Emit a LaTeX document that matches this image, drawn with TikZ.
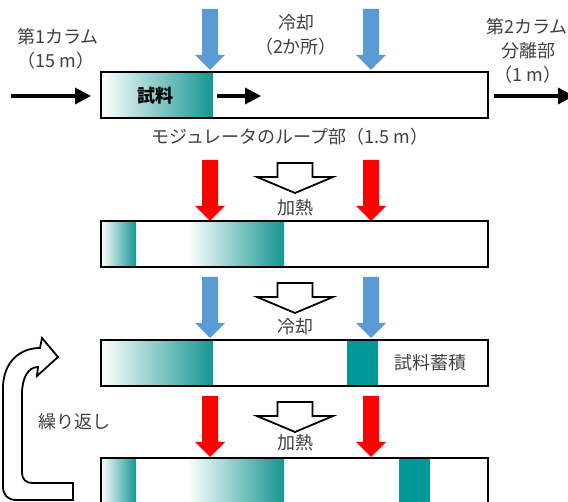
\documentclass[tikz,border=0pt]{standalone}
\usepackage{fontspec}
\setmainfont{Noto Sans CJK JP}
\usetikzlibrary{arrows.meta}
\definecolor{cool}{RGB}{91,155,213}
\definecolor{hot}{RGB}{255,0,0}
\definecolor{tealc}{RGB}{0,153,153}
\definecolor{tealg}{RGB}{20,150,146}
\definecolor{txt}{RGB}{64,64,64}
\begin{document}
\begin{tikzpicture}[x=1pt,y=-1pt,
  barbox/.style={draw=black,line width=2.6pt,minimum width=387pt,minimum height=46pt,anchor=north west,inner sep=0pt,outer sep=0pt},
  lbl/.style={text=txt,font=\fontsize{18}{21}\selectfont,inner sep=0pt},
  flow/.style={line width=3.5pt,-{Triangle[length=16pt,width=16pt]}},
  downarrow/.pic={\fill[pic actions] (-8,0) -- (8,0) -- (8,46) -- (15,46) -- (0,61) -- (-15,46) -- (-8,46) -- cycle;},
  hollowarrow/.pic={\draw[fill=white,draw=black,line width=1.8pt,line join=miter] (-17.5,0) -- (17.5,0) -- (17.5,14) -- (38,14) -- (0,30) -- (-38,14) -- (-17.5,14) -- cycle;},
  fromwhite/.style={left color=white,middle color=tealg!25,right color=tealg}
]
\useasboundingbox (0,0) rectangle (568,502);
\clip (0,0) rectangle (568,502);

% ---------- row 1 ----------
\shade[fromwhite] (101,72) rectangle (213,118);
\node[barbox] (bar1) at (101,72) {};
\node[font=\fontsize{18}{21}\selectfont\bfseries,inner sep=0pt] (sample) at (155,96) {試料};
\coordinate (s1) at (217,96);
\coordinate (s2) at (261,96);
\draw[flow] (s1) -- (s2);
\coordinate (in1) at (11,96);
\coordinate (in2) at (91,96);
\draw[flow] (in1) -- (in2);
\coordinate (out1) at (494,96);
\coordinate (out2) at (574,96);
\draw[flow] (out1) -- (out2);
\pic[fill=cool] at (210,9) {downarrow};
\pic[fill=cool] at (371,9) {downarrow};
\node[lbl] (c1a) at (58,37) {第1カラム};
\node[lbl] (c1b) at (56,61) {（15 m）};
\node[lbl] (cool1a) at (296,23) {冷却};
\node[lbl] (cool1b) at (296,47) {（2か所）};
\node[lbl] (c2a) at (527,27) {第2カラム};
\node[lbl] (c2b) at (528,51) {分離部};
\node[lbl] (c2c) at (528,75) {（1 m）};
\node[lbl] (loop) at (290,137) {モジュレータのループ部（1.5 m）};

% ---------- row 2 ----------
\pic[fill=hot] at (210,160) {downarrow};
\pic[fill=hot] at (371,160) {downarrow};
\pic at (295,163) {hollowarrow};
\node[lbl] (heat1) at (295,208) {加熱};
\shade[fromwhite] (101,221) rectangle (136,267);
\shade[fromwhite] (187,221) rectangle (284,267);
\node[barbox] (bar2) at (101,221) {};

% ---------- row 3 ----------
\pic[fill=cool] at (210,277) {downarrow};
\pic[fill=cool] at (371,277) {downarrow};
\pic at (295,283) {hollowarrow};
\node[lbl] (cool2) at (295,327) {冷却};
\shade[fromwhite] (101,340) rectangle (213,386);
\fill[tealc] (347,340) rectangle (378,386);
\node[barbox] (bar3) at (101,340) {};
\node[lbl] (acc) at (430,363) {試料蓄積};

% ---------- row 4 ----------
\pic[fill=hot] at (210,396) {downarrow};
\pic[fill=hot] at (371,396) {downarrow};
\pic at (295,402) {hollowarrow};
\node[lbl] (heat2) at (295,443) {加熱};
\shade[fromwhite] (101,458) rectangle (136,520);
\shade[fromwhite] (187,458) rectangle (284,520);
\fill[tealc] (399,458) rectangle (430,520);
\draw[line width=2.6pt] (101,520) -- (101,458) -- (488,458) -- (488,520);

% ---------- repeat loop arrow ----------
\node[lbl] (rep) at (74,422) {繰り返し};
\draw[fill=white,line width=1.8pt,line join=miter]
  (73,500) -- (16,500) .. controls (8,500) and (3,495) .. (3,487)
  -- (3,388) .. controls (3,364) and (18,348) .. (40,348)
  -- (42,338) -- (58,357) -- (37,376) -- (38,367)
  .. controls (28,367) and (22,378) .. (22,394)
  -- (22,473) .. controls (22,479) and (26,483) .. (32,483)
  -- (73,483) -- cycle;
\end{tikzpicture}
\end{document}
